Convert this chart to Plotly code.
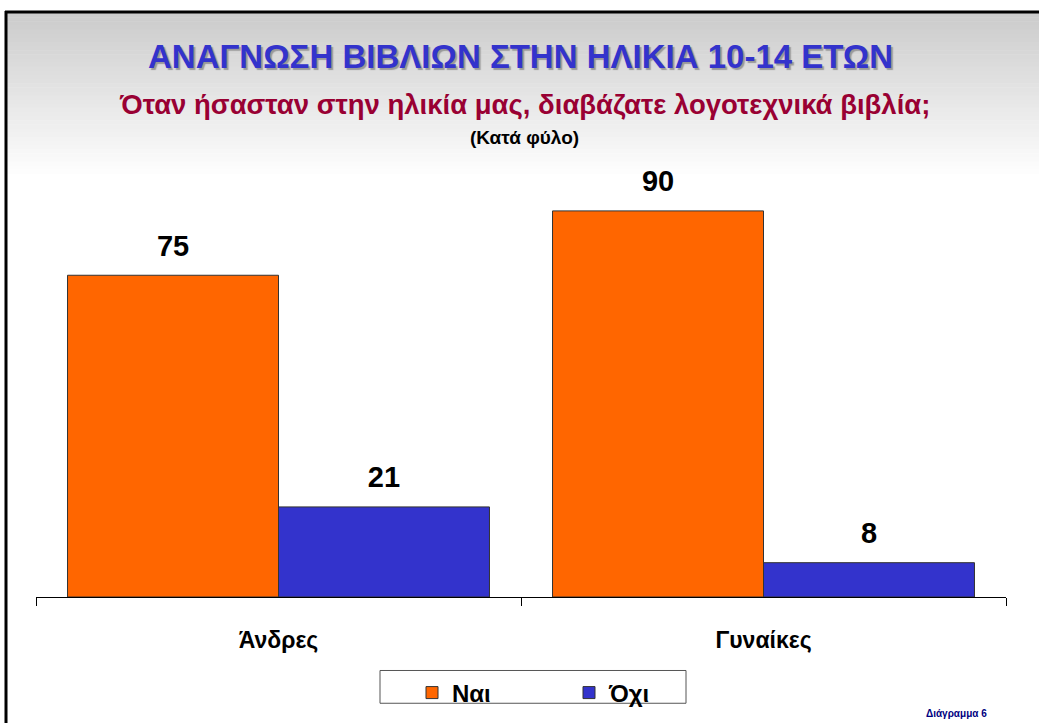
import plotly.graph_objects as go

categories = ["Άνδρες", "Γυναίκες"]
series_names = ["Ναι", "Όχι"]
nai_values = [75, 90]
oxi_values = [21, 8]
colors = ["#FF6600", "#3333CC"]

W, H = 1039, 727
L, R, T, B = 36, 33, 168, 127
PW, PH = W - L - R, H - T - B

def px(x):
    return (x - L) / PW

def py(y):
    return (H - B - y) / PH

FONT = "Liberation Sans, Arial, sans-serif"

fig = go.Figure()
for i, (name, vals, col) in enumerate(zip(series_names, [nai_values, oxi_values], colors)):
    fig.add_trace(go.Bar(
        x=categories, y=vals, name=name, offsetgroup=str(i),
        marker=dict(color=col, line=dict(color="#333333", width=1)),
    ))
for i, vals in enumerate([nai_values, oxi_values]):
    fig.add_trace(go.Scatter(
        x=categories, y=vals, mode="markers+text", text=vals, offsetgroup=str(i),
        textposition="top center", showlegend=False, cliponaxis=False,
        marker=dict(size=18, color="rgba(0,0,0,0)"),
        textfont=dict(family=FONT, size=29, color="black", weight="bold"),
        hoverinfo="skip",
    ))

shapes = []
top, bot = 12, 178
n = 40
for i in range(n):
    y0 = top + (bot - top) * i / n
    y1 = top + (bot - top) * (i + 1) / n
    g = int(204 + (255 - 204) * (i / (n - 1)))
    shapes.append(dict(type="rect", xref="paper", yref="paper",
                       x0=px(7), x1=px(W), y0=py(y0), y1=py(y1 + 0.5),
                       fillcolor=f"rgb({g},{g},{g})", line=dict(width=0), layer="below"))
shapes.append(dict(type="line", xref="paper", yref="paper", x0=px(6), x1=px(6),
                   y0=py(10), y1=py(H), line=dict(color="black", width=3)))
shapes.append(dict(type="line", xref="paper", yref="paper", x0=px(5), x1=px(W),
                   y0=py(11), y1=py(11), line=dict(color="black", width=3)))
shapes.append(dict(type="rect", xref="paper", yref="paper", x0=px(380), x1=px(686),
                   y0=py(674), y1=py(707), line=dict(color="#555555", width=1),
                   fillcolor="white", layer="below"))

annotations = [
    dict(text="<b>ΑΝΑΓΝΩΣΗ ΒΙΒΛΙΩΝ ΣΤΗΝ ΗΛΙΚΙΑ 10-14 ΕΤΩΝ</b>", x=px(520), y=py(56),
         font=dict(family=FONT, size=33, color="#3333CC", shadow="2px 2px 1px #999999")),
    dict(text="<b>Όταν ήσασταν στην ηλικία μας, διαβάζατε λογοτεχνικά βιβλία;</b>", x=px(524), y=py(104),
         font=dict(family=FONT, size=27.5, color="#990033")),
    dict(text="<b>(Κατά φύλο)</b>", x=px(524), y=py(137),
         font=dict(family=FONT, size=19, color="black")),
    dict(text="<b>Διάγραμμα 6</b>", x=px(956), y=py(717),
         font=dict(family=FONT, size=10, color="#000080")),
]
for a in annotations:
    a.update(xref="paper", yref="paper", showarrow=False, xanchor="center", yanchor="middle")

fig.update_layout(
    width=W, height=H,
    margin=dict(l=L, r=R, t=T, b=B),
    paper_bgcolor="white", plot_bgcolor="rgba(0,0,0,0)",
    barmode="group", bargap=0.13, bargroupgap=0,
    scattermode="group", scattergap=0.13,
    shapes=shapes, annotations=annotations,
    showlegend=True,
    legend=dict(orientation="h", x=px(412), y=py(674), xanchor="left", yanchor="top",
                borderwidth=0, bgcolor="rgba(0,0,0,0)",
                entrywidth=112, entrywidthmode="pixels",
                font=dict(family=FONT, size=24, color="black", weight="bold")),
    xaxis=dict(showline=True, linecolor="black", linewidth=1, ticks="outside",
               tickson="boundaries", ticklen=8, tickcolor="black", showgrid=False,
               tickfont=dict(family=FONT, size=23, color="black", weight="bold"),
               ticklabelstandoff=22),
    yaxis=dict(range=[0, 100], visible=False, showgrid=False, zeroline=False),
)

fig.write_html("out.html", config={"displayModeBar": False},
               post_script="document.body.style.margin='0';document.body.style.overflow='hidden';")
